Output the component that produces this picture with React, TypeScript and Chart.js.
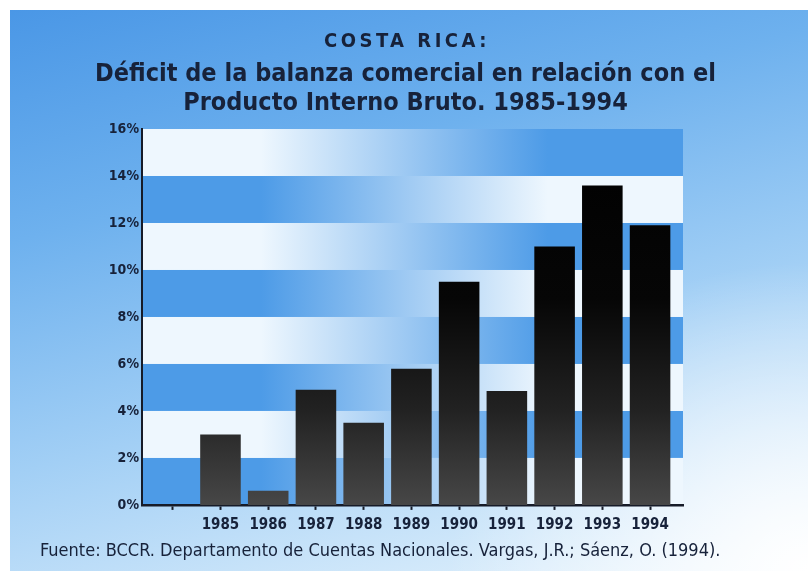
import React, { useEffect, useRef } from 'react';
import { Chart, registerables } from 'chart.js';

Chart.register(...registerables);

// ---- data ----
const years = ['1985', '1986', '1987', '1988', '1989', '1990', '1991', '1992', '1993', '1994'];
const deficitPct = [3.0, 0.6, 4.9, 3.5, 5.8, 9.5, 4.85, 11.0, 13.6, 11.9];
const xTickLabels = ['', ...years];
const yTickValues = [0, 2, 4, 6, 8, 10, 12, 14, 16];
const supTitle = 'COSTA RICA:';
const titleLines = [
  'Déficit de la balanza comercial en relación con el',
  'Producto Interno Bruto. 1985-1994',
];
const sourceNote = 'Fuente: BCCR. Departamento de Cuentas Nacionales. Vargas, J.R.; Sáenz, O. (1994).';

// ---- styles ----
const FONT = '"Liberation Sans Narrow", "DejaVu Sans Condensed", "Open Sans", sans-serif';
const TEXT = '#17223a';
const AXIS = '#161b28';
const BAND_BLUE = '#4d9be7';
const BAND_WHITE = '#eef7fe';
const BG =
  'radial-gradient(ellipse 45% 55% at 100% 100%, rgba(255,255,255,1) 0%, rgba(255,255,255,0) 100%), ' +
  'linear-gradient(165deg, #4a97e6 0%, #6eb1ee 30%, #a2cff5 60%, #cfe7fa 85%, #eaf5fd 100%)';

const bandsPlugin = {
  id: 'bands',
  beforeDraw(chart: any) {
    const { ctx, chartArea: a, scales } = chart;
    if (!a) return;
    const y = scales.y;
    ctx.save();
    for (let k = 0; k < yTickValues.length - 1; k++) {
      const yTop = y.getPixelForValue(yTickValues[k + 1]);
      const yBot = y.getPixelForValue(yTickValues[k]);
      const g = ctx.createLinearGradient(a.left, 0, a.right, 0);
      const c0 = k % 2 === 0 ? BAND_BLUE : BAND_WHITE;
      const c1 = k % 2 === 0 ? BAND_WHITE : BAND_BLUE;
      g.addColorStop(0, c0);
      g.addColorStop(0.22, c0);
      g.addColorStop(0.75, c1);
      g.addColorStop(1, c1);
      ctx.fillStyle = g;
      ctx.fillRect(a.left, yTop, a.right - a.left, yBot - yTop);
    }
    ctx.restore();
  },
};

const supTitlePlugin = {
  id: 'supTitle',
  beforeDraw(chart: any) {
    const { ctx } = chart;
    ctx.save();
    ctx.font = `bold 20px ${FONT}`;
    (ctx as any).letterSpacing = '3.5px';
    ctx.fillStyle = TEXT;
    ctx.textAlign = 'center';
    ctx.textBaseline = 'middle';
    ctx.fillText(supTitle, chart.width / 2 + 1.5, 42);
    ctx.restore();
  },
};

function barFill(context: any) {
  const { chart } = context;
  const a = chart.chartArea;
  if (!a) return '#222';
  const g = chart.ctx.createLinearGradient(0, a.top, 0, a.bottom);
  g.addColorStop(0, '#000000');
  g.addColorStop(0.45, '#060606');
  g.addColorStop(0.75, '#222222');
  g.addColorStop(1, '#474747');
  return g;
}

export default function App() {
  const ref = useRef<HTMLCanvasElement>(null);

  useEffect(() => {
    document.body.style.margin = '0';
    const canvas = ref.current;
    if (!canvas) return;
    const chart = new Chart(canvas, {
      type: 'bar',
      data: {
        datasets: [
          {
            label: 'Déficit (% del PIB)',
            data: years.map((_, i) => ({ x: i + 1, y: deficitPct[i] })),
            backgroundColor: barFill,
            borderWidth: 0,
            barPercentage: 0.85,
            categoryPercentage: 1,
          },
        ],
      },
      options: {
        responsive: false,
        animation: false,
        layout: { padding: { left: 40, right: 40, top: 0, bottom: 3 } },
        plugins: {
          legend: { display: false },
          tooltip: { enabled: false },
          title: {
            display: true,
            text: titleLines,
            color: TEXT,
            font: { family: FONT, size: 25, weight: 'bold', lineHeight: 1.16 },
            padding: { top: 59.5, bottom: 11.5 },
          },
          subtitle: {
            display: true,
            position: 'bottom',
            align: 'start',
            text: sourceNote,
            color: TEXT,
            font: { family: FONT, size: 18, lineHeight: 1.2 },
            padding: { top: 3, bottom: 6 },
          },
        },
        scales: {
          x: {
            type: 'linear',
            offset: false,
            min: -0.644,
            max: 10.69,
            z: 1,
            afterBuildTicks: (s: any) => {
              s.ticks = xTickLabels.map((_, i) => ({ value: i }));
            },
            afterFit: (s: any) => {
              s.height = 32.5;
            },
            ticks: {
              autoSkip: false,
              maxRotation: 0,
              padding: 6,
              color: TEXT,
              font: { family: FONT, size: 15, weight: 'bold' },
              callback: (v: any) => xTickLabels[v] ?? '',
            },
            grid: {
              display: true,
              offset: false,
              drawOnChartArea: false,
              drawTicks: true,
              tickLength: 5,
              tickColor: AXIS,
              tickWidth: 2,
            },
            border: { display: true, color: AXIS, width: 2.5 },
          },
          y: {
            min: 0,
            max: 16,
            z: 1,
            afterBuildTicks: (s: any) => {
              s.ticks = yTickValues.map((v) => ({ value: v }));
            },
            afterFit: (s: any) => {
              s.width = 102;
            },
            ticks: {
              padding: 3,
              color: TEXT,
              font: { family: FONT, size: 14, weight: 'bold' },
              callback: (v: any) => `${v}%`,
            },
            grid: { display: false, drawTicks: false },
            border: { display: true, color: AXIS, width: 2 },
          },
          yR: {
            position: 'right',
            display: true,
            afterFit: (s: any) => {
              s.width = 88;
            },
            ticks: { display: false },
            grid: { display: false, drawTicks: false },
            border: { display: false },
          },
        },
      },
      plugins: [bandsPlugin, supTitlePlugin],
    } as any);
    return () => chart.destroy();
  }, []);

  return (
    <div style={{ position: 'relative', width: 811, height: 571, background: '#ffffff', overflow: 'hidden' }}>
      <div style={{ position: 'absolute', left: 10, top: 10, width: 798, height: 561, background: BG }} />
      <canvas
        ref={ref}
        width={811}
        height={571}
        style={{ position: 'absolute', left: 0, top: 0, width: 811, height: 571 }}
      />
    </div>
  );
}
